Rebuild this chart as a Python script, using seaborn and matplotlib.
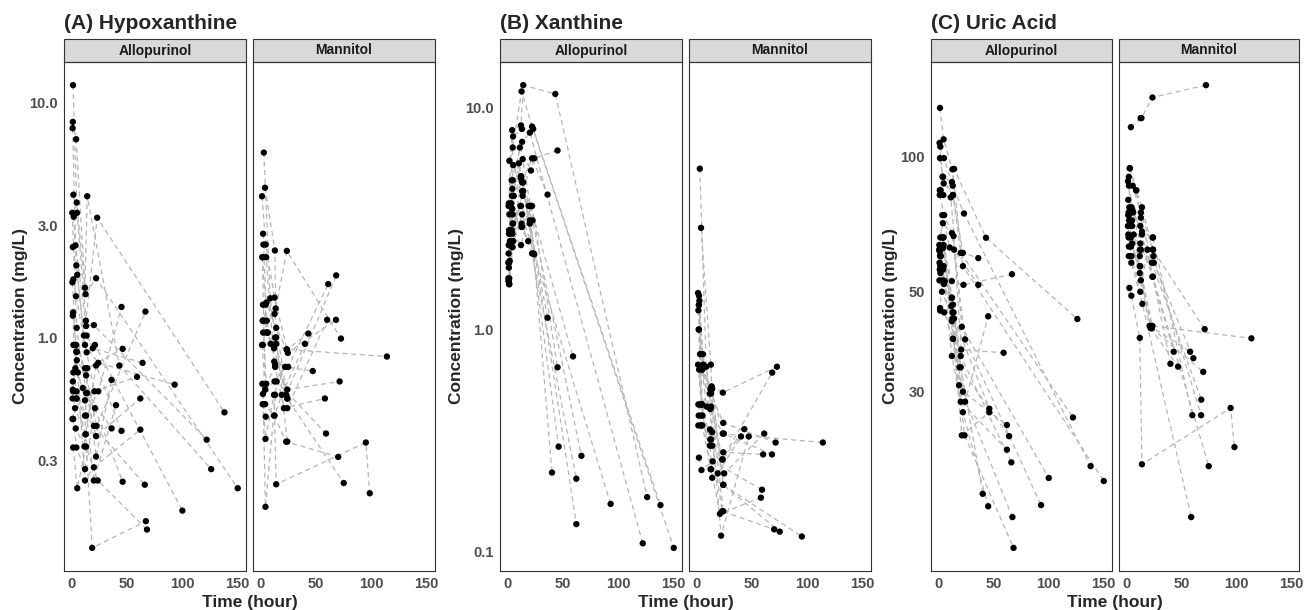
import numpy as np
import pandas as pd
import matplotlib
matplotlib.use("Agg")
import matplotlib.pyplot as plt
from matplotlib.patches import Rectangle
from matplotlib.ticker import NullLocator
import seaborn as sns

sns.set_style("white")
plt.rcParams["font.family"] = ["Liberation Sans", "DejaVu Sans"]

nan = np.nan

# Allopurinol arm: one list per subject (sampling time in hours)
allo_time = [
    [1.0, 4.0, 12.0, 14.0, 43, 126],
    [1.2, 4.5, 12.5, 22.0, 150],
    [1.5, 4.8, 12.8, 23.0, 138],
    [0.8, 3.5, 13.0, 20.0, 122],
    [1.8, 4.2, 11.0, 21.0, 100],
    [1.0, 5.0, 12.0, 24.0, 93],
    [1.5, 3.8, 13.5, 20.5, 59],
    [0.6, 4.0, 12.0, 22.5, 66.6],
    [1.2, 4.6, 13.0, 22.0, 36],
    [1.0, 3.3, 10.0, 14.0, 36],
    [2.0, 5.5, 12.0, 20.0, 40],
    [1.5, 4.4, 13.0, 24.0, 45],
    [0.8, 4.0, 12.5, 22.0, 45],
    [1.0, 3.6, 11.5, 14.0, 46],
    [1.4, 4.2, 12.0, 21.0, 46],
    [0.5, 4.5, 13.0, 22.0, 62],
    [1.2, 4.0, 12.0, 20.0, 62],
    [1.6, 4.8, 13.5, 19.0, 64],
    [0.7, 3.0, 12.5, 18.5, 67],
    [1.3, 5.0, 13.0, 23.5, 68],
    [1.0, 4.5, 12.0, 20.0, 66],
]
allo_hx = [
    [8.3, 7.0, 1.63, 4.0, 0.76, 0.275],
    [11.9, 3.76, 1.53, 1.79, 0.228],
    [4.06, 3.4, 1.18, 3.24, 0.48],
    [7.8, 2.47, 1.12, 1.13, 0.367],
    [3.27, 2.03, 1.02, 0.93, 0.183],
    [2.43, 1.85, 0.93, 0.78, 0.63],
    [1.77, 1.5, 0.865, 0.59, 0.68],
    [1.72, 0.93, 0.74, 0.42, 1.29],
    [1.28, 0.80, 0.69, 0.311, 0.66],
    [1.24, 0.74, 0.61, 0.58, 0.41],
    [0.93, 0.71, 0.54, 0.246, 0.515],
    [0.71, 0.59, 0.465, 0.59, 1.35],
    [0.55, 0.55, 0.387, 0.76, 0.40],
    [0.65, 0.41, 0.343, 0.74, 0.895],
    [0.45, 0.34, 0.275, 0.50, 0.243],
    [3.4, 1.1, 0.58, 0.38, 0.55],
    [0.59, 0.87, 0.246, 0.28, 0.405],
    [0.93, 0.87, 1.02, 0.90, 0.78],
    [0.45, 0.50, 0.387, 0.127, 0.165],
    [0.34, 0.228, 0.343, 0.246, 0.152],
    [0.60, 0.55, 0.465, 0.42, 0.236],
]
allo_xa = [
    [3.7, 7.9, 8.3, 12.6, 11.5, 0.176],
    [2.7, 6.6, 11.8, 8.2, 0.104],
    [5.75, 7.4, 8.0, 8.0, 0.162],
    [3.6, 4.7, 7.0, 7.7, 0.109],
    [2.04, 4.3, 6.6, 5.2, nan],
    [2.4, 5.5, 4.9, 2.18, 0.164],
    [3.3, 4.0, 5.85, 3.6, 0.757],
    [1.7, 3.5, 4.8, 3.1, 0.27],
    [2.8, 4.7, 4.6, 5.9, 4.05],
    [1.64, 3.7, 5.6, 4.2, 1.13],
    [2.5, 4.0, 4.9, 3.6, 0.227],
    [1.6, 2.35, 4.2, 5.9, 6.4],
    [2.2, 3.5, 2.9, 3.6, 0.676],
    [1.9, 2.8, 3.6, 4.6, 0.297],
    [1.7, 2.7, 2.4, 3.6, nan],
    [2.0, 3.3, 2.9, 2.2, 0.213],
    [1.6, 2.35, 4.8, 3.1, 0.133],
    [2.7, 3.0, 4.0, 3.6, nan],
    [1.65, 2.4, 3.0, 2.5, nan],
    [2.0, 2.5, 3.3, 2.2, nan],
    [2.4, 3.0, 3.6, 3.0, nan],
]
allo_ua = [
    [84, 90, 87.6, 93.7, 65.9, 43.5],
    [128, 109, 93.5, 57.0, 19.0],
    [105, 99, 86, 74.6, 20.5],
    [107, 90, 82, 61, 26.3],
    [84, 82, 81, 41.8, 19.3],
    [82, 74, 67.5, 39.2, 16.8],
    [66, 71, 66.5, 37.2, 36.6],
    [63.5, 62.5, 52.8, 51.8, 54.7],
    [99, 87, 82, 61, 59.4],
    [61.5, 74, 62.7, 62, 51.8],
    [60, 52.8, 48.5, 34, 17.8],
    [57, 66, 46.8, 28.5, 44.1],
    [58, 53, 45, 27, 16.7],
    [56, 66, 46.5, 43.6, 27.5],
    [45.4, 66, 43, 24, 27.0],
    [62, 63.5, 39.3, 30, 25.3],
    [60, 56, 36, 28.5, 22.3],
    [55, 52, 45, 34, 23.9],
    [53, 50, 43.6, 31, 15.8],
    [46, 45, 39.3, 24, 13.5],
    [61.5, 57, 48.5, 36, 20.9],
]

# Mannitol arm
mann_time = [
    [2.0, 5.0, 12.0, 23.5, 114],
    [2.5, 4.3, 12.0, 14.0, 95, 98.5],
    [1.5, 4.5, 12.5, 24.0, 75],
    [3.9, 12.8, 13.5, 23.6, 72.5],
    [2.0, 5.5, 13.0, 24.0, 71.3],
    [1.5, 4.0, 12.0, 23.0, 70],
    [2.8, 8.6, 13.0, 23.0, 68.2],
    [1.2, 4.5, 12.5, 24.5, 68],
    [2.1, 6.0, 14.0, 24.0, 60],
    [2.4, 4.9, 12.2, 24.8, 61],
    [2.0, 4.3, 14.4, 59],
    [1.8, 5.0, 13.0, 21.0, 58],
    [1.2, 4.0, 12.5, 22.0, 47],
    [2.2, 5.2, 14.0, 23.5, 43],
    [1.8, 4.5, 12.5, 19.0, 40],
    [3.0, 8.9, 14.0, 24.0],
    [2.0, 6.4, 12.0, 24.0],
    [1.5, 4.0, 13.0],
]
mann_hx = [
    [1.18, 1.05, 0.93, 0.89, 0.83],
    [0.52, 0.37, 0.57, 0.237, 0.357, 0.217],
    [2.2, 1.38, 1.26, 0.55, 0.24],
    [4.35, 2.35, 1.33, 2.34, 0.99],
    [0.93, 1.18, 0.77, 0.60, 0.65],
    [0.635, 0.52, 0.465, 0.36, 0.31],
    [6.14, 1.47, 1.0, 0.57, 1.84],
    [4.0, 2.49, 1.48, 0.86, 1.19],
    [2.77, 1.05, 0.94, 0.50, 1.19],
    [2.49, 2.2, 0.79, 0.75, 1.69],
    [0.575, 0.19, 0.65, 0.39],
    [1.18, 0.635, 0.75, 0.50, 0.55],
    [0.93, 0.60, 0.65, 0.75, 0.72],
    [1.05, 1.41, 1.1, 0.89, 1.04],
    [0.52, 0.46, 0.465, 0.57, 0.94],
    [1.18, 0.94, 1.0, 0.36],
    [1.38, 1.05, 0.90, 0.55],
    [2.2, 0.60, 0.57],
]
mann_xa = [
    [1.29, 0.66, 0.44, 0.34, 0.31],
    [0.46, 0.41, 0.30, 0.215, 0.117, nan],
    [1.22, 0.46, 0.54, 0.20, 0.123],
    [2.87, 0.695, 0.555, 0.52, 0.68],
    [1.0, 0.775, 0.515, 0.38, 0.31],
    [0.37, 0.37, 0.355, 0.152, 0.126],
    [5.3, 0.68, 0.45, 0.26, 0.64],
    [1.46, 0.66, 0.54, 0.34, 0.274],
    [1.42, 0.695, 0.345, 0.28, 0.274],
    [1.35, 0.46, 0.32, 0.225, 0.34],
    [0.265, 0.233, 0.255, 0.19],
    [0.41, 0.37, 0.235, 0.148, 0.175],
    [0.695, 0.46, 0.44, 0.118, 0.33],
    [0.66, 0.41, 0.30, 0.26, 0.356],
    [1.0, 0.46, 0.235, 0.225, 0.33],
    [0.775, 0.45, 0.54, 0.20],
    [1.29, 0.68, 0.515, 0.152],
    [0.46, 0.37, 0.32],
]
mann_ua = [
    [74, 70, 57, 42, 39.4],
    [51, 49, 39.5, 20.7, 27.6, 22.6],
    [80, 77, 64, 54, 20.5],
    [116, 121.5, 121.5, 135, 143.8],
    [90, 86, 75, 62, 41.3],
    [67, 66, 55, 41.5, 33.2],
    [94, 84, 73, 58, 28.8],
    [88, 76, 70, 60, 26.6],
    [86, 75, 68, 66, 26.6],
    [77, 72, 62, 58, 35.6],
    [60, 58, 47, 15.8],
    [75, 64, 53, 42, 36.8],
    [70, 63, 57, 41.5, 34.1],
    [72, 76, 67, 54, 36.8],
    [66, 60, 50, 62, 34.6],
    [94, 84, 77, 62],
    [63, 67, 60, 66],
    [74, 70, 62],
]


def to_long(times, hx, xa, ua, arm):
    rows = []
    for i, t in enumerate(times):
        for j in range(len(t)):
            rows.append((f"{arm}_{i}", arm, t[j], hx[i][j], xa[i][j], ua[i][j]))
    return pd.DataFrame(rows, columns=["subject", "arm", "time", "hx", "xa", "ua"])


df = pd.concat([to_long(allo_time, allo_hx, allo_xa, allo_ua, "Allopurinol"),
                to_long(mann_time, mann_hx, mann_xa, mann_ua, "Mannitol")],
               ignore_index=True)

W, H = 1306, 610
fig = plt.figure(figsize=(W / 100, H / 100), dpi=100)

# panel geometry in pixels
top_px, bot_px, strip_px = 62, 571, 23
panels = [
    ("hx", "(A) Hypoxanthine", [(64, 246), (253, 435)], 21,
     [0.3, 1, 3, 10], ["0.3", "1.0", "3.0", "10.0"]),
    ("xa", "(B) Xanthine", [(500, 682), (689, 871)], 456,
     [0.1, 1, 10], ["0.1", "1.0", "10.0"]),
    ("ua", "(C) Uric Acid", [(931, 1112), (1119, 1299)], 890,
     [30, 50, 100], ["30", "50", "100"]),
]
arms = ["Allopurinol", "Mannitol"]

tmin, tmax = df["time"].min(), df["time"].max()
tspan = tmax - tmin
xlim = (tmin - 0.05 * tspan, tmax + 0.05 * tspan)

edge = "#333333"
for col, title, boxes, ylab_x, yticks, ylabels in panels:
    lv = np.log10(df[col].dropna())
    lspan = lv.max() - lv.min()
    ylim = (10 ** (lv.min() - 0.05 * lspan), 10 ** (lv.max() + 0.05 * lspan))
    for k, (arm, (x0, x1)) in enumerate(zip(arms, boxes)):
        ax = fig.add_axes([x0 / W, (H - bot_px) / H, (x1 - x0) / W, (bot_px - top_px) / H])
        ax.set_yscale("log")
        sub = df[df["arm"] == arm].dropna(subset=[col])
        sns.lineplot(data=sub, x="time", y=col, units="subject", estimator=None,
                     sort=True, color="#B5B5B5", lw=0.9, linestyle=(0, (4, 3)),
                     ax=ax, legend=False)
        sns.scatterplot(data=sub, x="time", y=col, color="black", s=21,
                        edgecolor="none", ax=ax, legend=False, zorder=3)
        ax.set_xlim(xlim)
        ax.set_ylim(ylim)
        ax.set_xlabel("")
        ax.set_ylabel("")
        ax.yaxis.set_minor_locator(NullLocator())
        ax.set_yticks(yticks)
        ax.set_yticklabels(ylabels, fontweight="bold")
        ax.set_xticks([0, 50, 100, 150])
        ax.set_xticklabels(["0", "50", "100", "150"], fontweight="bold")
        ax.tick_params(axis="both", length=2.5, width=0.7, color=edge,
                       labelsize=10.5, labelcolor="#4D4D4D", pad=2)
        if k == 1:
            ax.tick_params(axis="y", left=False, labelleft=False)
        for s in ax.spines.values():
            s.set_color(edge)
            s.set_linewidth(0.8)
        h = strip_px / (bot_px - top_px)
        ax.add_patch(Rectangle((0, 1), 1, h, transform=ax.transAxes,
                               facecolor="#D9D9D9", edgecolor=edge, lw=0.8,
                               clip_on=False))
        ax.text(0.5, 1 + h / 2, arm, transform=ax.transAxes, ha="center",
                va="center", fontsize=10, fontweight="bold", color="#1A1A1A")

    fig.text(boxes[0][0] / W, (H - 29) / H, title, fontsize=15,
             fontweight="bold", ha="left", va="baseline")
    fig.text(ylab_x / W, (H - (top_px + bot_px) / 2) / H, "Concentration (mg/L)",
             rotation=90, fontsize=12.5, fontweight="bold", ha="center", va="center")
    fig.text((boxes[0][0] + boxes[1][1]) / 2 / W, (H - 602) / H, "Time (hour)",
             fontsize=12.5, fontweight="bold", ha="center", va="center")

fig.savefig("out.png", dpi=100)
